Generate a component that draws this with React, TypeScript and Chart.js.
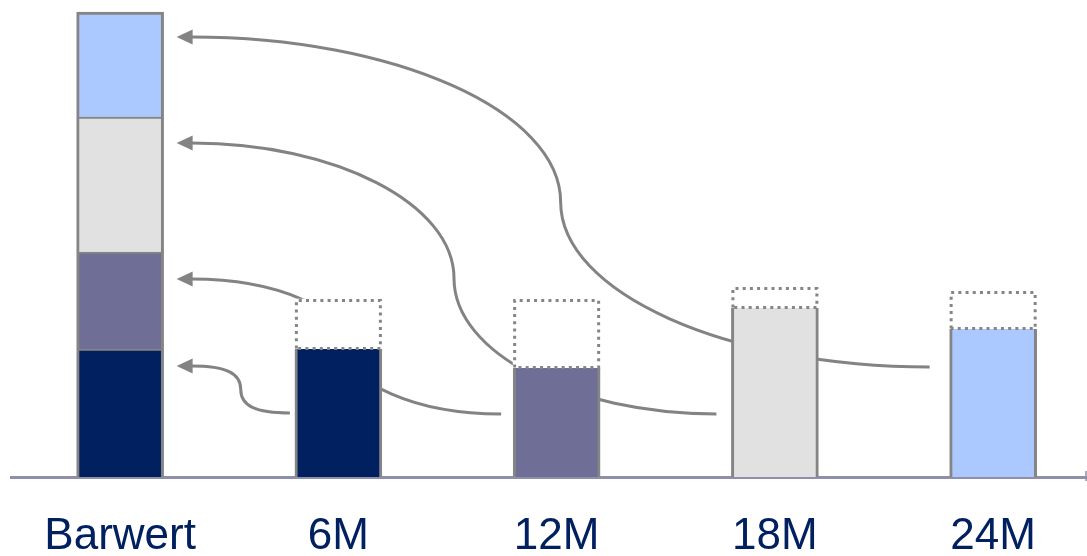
import React, { useEffect, useRef } from "react";
import { Chart, registerables } from "chart.js";

Chart.register(...registerables);

// ---- data (in arbitrary height units) ----
const categories = ["Barwert", "6M", "12M", "18M", "24M"];
// Barwert stack parts: bottom (navy) -> top (light blue)
const barwertParts = [128, 97, 135, 105];
// solid bars of the periods 6M, 12M, 18M, 24M
const periodValues = [128, 109, 169, 148];
// dotted (missing) part on top of each period bar
const periodGaps = [50, 69, 21, 38];
// arrows: from period bar (height where the line leaves) to Barwert (height of arrow tip)
const arrowFrom = [64, 63, 63, 110];
const arrowTo = [111, 198, 334, 440];

// ---- styles ----
const partColors = ["#002060", "#6e6e96", "#e1e1e1", "#abc8ff"];
const BORDER = "#858585";
const AXIS = "#8f8fab";
const TEXT = "#002060";
const BAR_W = 87;
const arrowGaps = [5, 12, 15, 20];
const arrowBend = [0.7, 0.55, 0.55, 0.55];

const arrowsPlugin = {
  id: "arrows",
  beforeDatasetsDraw(chart: any) {
    const { ctx } = chart;
    const xs = chart.scales.x;
    const ys = chart.scales.y;
    const half = BAR_W / 2;
    const tipX = xs.getPixelForValue(0) + half + 13;
    const headLen = 16;
    const headHalf = 7.5;
    ctx.save();
    ctx.strokeStyle = "#838383";
    ctx.fillStyle = "#838383";
    ctx.lineWidth = 3;
    arrowFrom.forEach((fv, i) => {
      const sx = xs.getPixelForValue(i + 1) - half - arrowGaps[i];
      const sy = ys.getPixelForValue(fv);
      const ty = ys.getPixelForValue(arrowTo[i]);
      const ex = tipX + headLen - 1;
      const ey = ty;
      const mx = (sx + ex) / 2;
      const my = (sy + ey) / 2;
      const k = arrowBend[i];
      ctx.beginPath();
      ctx.moveTo(sx, sy);
      ctx.bezierCurveTo(sx - k * (sx - mx), sy, mx, my + k * (sy - my), mx, my);
      ctx.bezierCurveTo(mx, my - k * (my - ey), ex + k * (mx - ex), ey, ex, ey);
      ctx.stroke();
      ctx.beginPath();
      ctx.moveTo(tipX, ty);
      ctx.lineTo(tipX + headLen, ty - headHalf);
      ctx.lineTo(tipX + headLen, ty + headHalf);
      ctx.closePath();
      ctx.fill();
    });
    ctx.restore();
  },
  afterDatasetsDraw(chart: any) {
    const { ctx } = chart;
    const meta = chart.getDatasetMeta(4);
    ctx.save();
    ctx.strokeStyle = BORDER;
    ctx.lineWidth = 3;
    ctx.setLineDash([3, 4.2]);
    meta.data.forEach((el: any) => {
      const p = el.getProps(["x", "y", "base", "width"], true);
      const l = p.x - p.width / 2 + 1.5;
      const r = p.x + p.width / 2 - 1.5;
      const t = p.y + 1.5;
      const b = p.base - 0.5;
      ctx.beginPath();
      ctx.moveTo(l, b);
      ctx.lineTo(l, t);
      ctx.lineTo(r, t);
      ctx.lineTo(r, b);
      ctx.lineTo(l, b);
      ctx.stroke();
    });
    ctx.restore();
  },
  afterDraw(chart: any) {
    const { ctx, chartArea } = chart;
    ctx.save();
    ctx.strokeStyle = AXIS;
    ctx.lineWidth = 1.5;
    ctx.beginPath();
    ctx.moveTo(chartArea.right - 1, chartArea.bottom - 6);
    ctx.lineTo(chartArea.right - 1, chartArea.bottom + 4);
    ctx.stroke();
    ctx.restore();
  },
};

export default function App() {
  const ref = useRef<HTMLCanvasElement>(null);
  useEffect(() => {
    const partDatasets = barwertParts.map((v, i) => ({
      label: "part" + i,
      data: [
        { x: 0, y: v },
        { x: i + 1, y: periodValues[i] },
      ],
      backgroundColor: partColors[i],
      borderColor: BORDER,
      borderSkipped: false,
      borderWidth: (c: any) =>
        c.dataIndex === 0
          ? { left: 3, right: 3, top: i === 3 ? 3 : 2, bottom: 0 }
          : { left: 3, right: 3, top: 0, bottom: 0 },
      barThickness: BAR_W,
    }));
    const gapDataset = {
      label: "gap",
      data: periodGaps.map((g, i) => ({ x: i + 1, y: g })),
      backgroundColor: "#ffffff",
      borderWidth: 0,
      barThickness: BAR_W,
    };
    const chart = new Chart(ref.current as HTMLCanvasElement, {
      type: "bar",
      data: { datasets: [...partDatasets, gapDataset] as any },
      options: {
        animation: false,
        responsive: true,
        maintainAspectRatio: false,
        events: [],
        layout: { padding: { left: 11, right: 0, top: 7, bottom: 0 } },
        plugins: { legend: { display: false }, tooltip: { enabled: false } },
        scales: {
          x: {
            type: "linear",
            min: -0.5,
            max: 4.43,
            offset: false,
            stacked: true,
            z: 1,
            grid: { display: false, drawTicks: false, offset: false },
            border: { display: true, color: AXIS, width: 3 },
            afterBuildTicks: (scale: any) => {
              scale.ticks = categories.map((_, i) => ({ value: i }));
            },
            afterFit: (scale: any) => {
              scale.height = 79;
            },
            ticks: {
              autoSkip: false,
              maxRotation: 0,
              minRotation: 0,
              padding: 33,
              color: TEXT,
              font: { family: "'Liberation Sans', Arial, sans-serif", size: 44 },
              callback: (v: any) => categories[v] ?? "",
            },
          },
          y: {
            display: false,
            stacked: true,
            min: 0,
            max: 470,
          },
        },
      },
      plugins: [arrowsPlugin],
    });
    return () => chart.destroy();
  }, []);
  return (
    <div style={{ position: "absolute", left: 0, top: 0, width: 1087, height: 556 }}>
      <canvas ref={ref} />
    </div>
  );
}
